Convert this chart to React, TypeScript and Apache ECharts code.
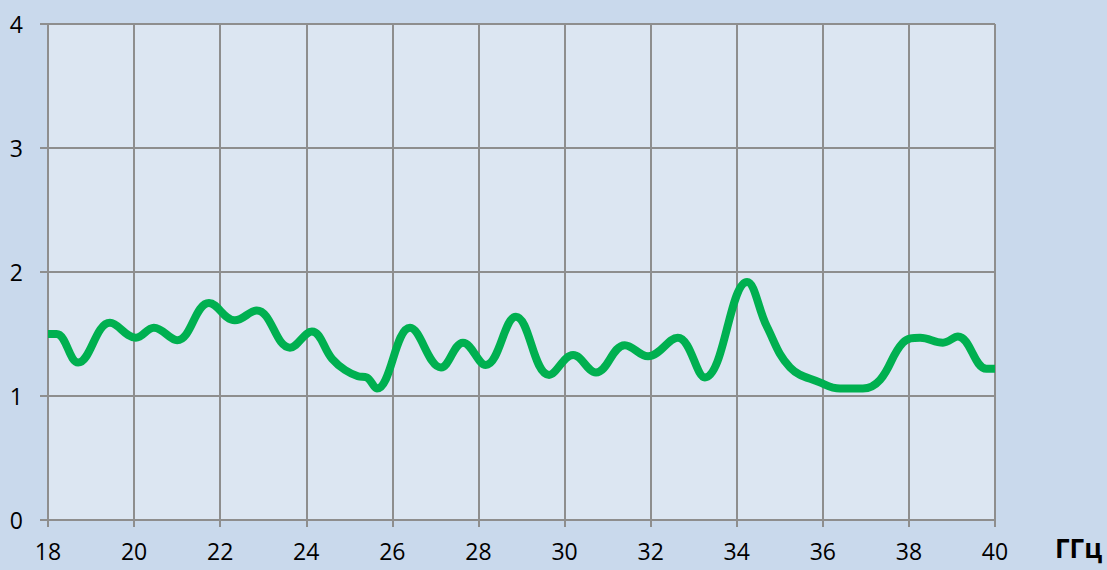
import React, { useEffect, useRef } from "react";
import * as echarts from "echarts";

const freqs = [18, 18.2, 18.7, 19.44, 20.04, 20.46, 21.0, 21.74, 22.34, 22.85, 23.62, 24.13, 24.6, 24.9, 25.2, 25.4, 25.64, 26.41, 27.13, 27.64, 28.17, 28.87, 29.64, 30.2, 30.73, 31.4, 31.94, 32.63, 33.26, 34.24, 34.7, 35.24, 35.93, 36.4, 36.93, 37.33, 37.86, 38.26, 38.79, 39.14, 39.8, 40];
const values = [1.5, 1.5, 1.27, 1.59, 1.47, 1.55, 1.45, 1.75, 1.61, 1.69, 1.39, 1.52, 1.3, 1.21, 1.16, 1.15, 1.06, 1.55, 1.23, 1.43, 1.25, 1.64, 1.17, 1.33, 1.19, 1.41, 1.32, 1.47, 1.15, 1.92, 1.56, 1.23, 1.11, 1.06, 1.06, 1.13, 1.43, 1.47, 1.43, 1.48, 1.22, 1.22];
const unitLabel = "ГГц";

export default function App() {
  const ref = useRef<HTMLDivElement>(null);
  useEffect(() => {
    if (!ref.current) return;
    const chart = echarts.init(ref.current, null, { renderer: "svg" });
    const gridColor = "#8e8e8e";
    chart.setOption({
      animation: false,
      backgroundColor: "#c9d9ec",
      textStyle: { fontFamily: "Open Sans" },
      grid: {
        left: 48,
        right: 112,
        top: 24,
        bottom: 50,
        show: true,
        backgroundColor: "#dce6f2",
        borderWidth: 0,
      },
      xAxis: {
        type: "value",
        min: 18,
        max: 40,
        interval: 2,
        axisLine: { show: true, lineStyle: { color: gridColor, width: 2 } },
        axisTick: { show: true, length: 7, lineStyle: { color: gridColor, width: 2 } },
        axisLabel: { color: "#000", fontSize: 23, margin: 19, fontFamily: "Open Sans" },
        splitLine: { show: true, lineStyle: { color: gridColor, width: 2 } },
      },
      yAxis: {
        type: "value",
        min: 0,
        max: 4,
        interval: 1,
        axisLine: { show: true, lineStyle: { color: gridColor, width: 2 } },
        axisTick: { show: true, length: 8, lineStyle: { color: gridColor, width: 2 } },
        axisLabel: { color: "#000", fontSize: 23, margin: 25, fontFamily: "Open Sans" },
        splitLine: { show: true, lineStyle: { color: gridColor, width: 2 } },
      },
      graphic: [
        {
          type: "text",
          left: 1055,
          top: 535,
          style: { text: unitLabel, font: "bold 26px 'Open Sans'", fill: "#000" },
        },
        {
          type: "line",
          shape: { x1: 995, y1: 24, x2: 995, y2: 527 },
          style: { stroke: gridColor, lineWidth: 2 },
        },
      ],
      series: [
        {
          type: "line",
          data: freqs.map((f, i) => [f, values[i]]),
          smooth: 0.4,
          showSymbol: false,
          lineStyle: { color: "#00b050", width: 8 },
          z: 5,
        },
      ],
    });
    return () => chart.dispose();
  }, []);
  return <div ref={ref} style={{ width: 1107, height: 570, position: "absolute", left: 0, top: 0 }} />;
}
